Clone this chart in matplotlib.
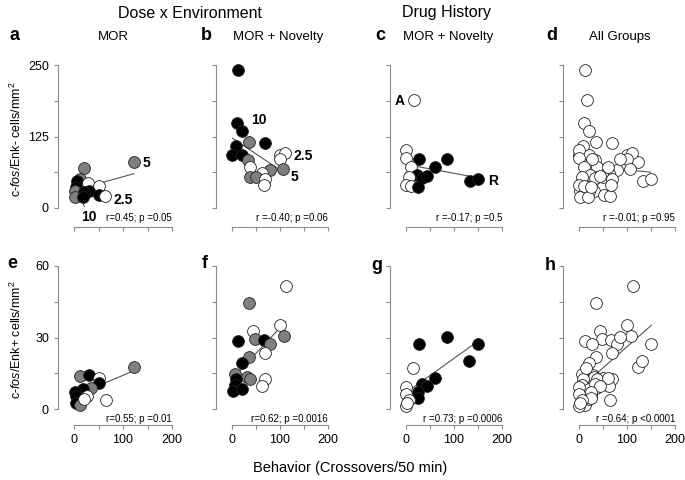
import numpy as np
import matplotlib

matplotlib.use("Agg")
import matplotlib.pyplot as plt

plt.rcParams["font.family"] = ["Liberation Sans", "DejaVu Sans"]
plt.rcParams["mathtext.fontset"] = "custom"
plt.rcParams["mathtext.rm"] = "Liberation Sans"
plt.rcParams["mathtext.it"] = "Liberation Sans:italic"

# --- data (x = crossovers / 50 min, y = cells / mm2) ---
# a: MOR, Enk- cells
a_x = [122, 20, 12, 7, 28, 50, 4, 31, 3, 20, 2, 18, 52, 64]
a_y = [80, 70, 50, 47, 43, 38, 36, 30, 29, 28, 20, 20, 23, 21]
a_grp = ["5", "5", "5", "10", "2.5", "2.5", "10", "10", "5", "10", "5", "10", "10", "2.5"]

# b: MOR + Novelty, Enk- cells
b_x = [13, 10, 20, 36, 69, 8, 1, 20, 34, 100, 110, 100, 79, 107, 38, 62, 38, 50, 69, 67]
b_y = [242, 148, 135, 116, 114, 108, 93, 93, 84, 93, 96, 85, 66, 68, 71, 61, 55, 55, 51, 40]
b_grp = ["10", "10", "10", "5", "10", "10", "10", "10", "5", "2.5",
         "2.5", "2.5", "5", "5", "2.5", "2.5", "5", "5", "2.5", "2.5"]

# c: drug history (A = acute, R = repeated), Enk- cells
c_x = [17, 0, 1, 28, 85, 10, 60, 22, 34, 44, 6, 1, 10, 24, 133, 149]
c_y = [188, 101, 88, 85, 85, 71, 71, 58, 52, 56, 54, 40, 38, 36, 48, 50]
c_grp = ["A", "A", "A", "R", "R", "A", "R", "R", "R", "R", "A", "A", "A", "R", "R", "R"]

# e: MOR, Enk+ cells
e_x = [122, 12, 30, 50, 52, 35, 18, 3, 26, 4, 65, 4, 12, 20]
e_y = [17.5, 13.7, 14.2, 12.8, 10.7, 9.0, 8.4, 7.0, 5.4, 5.5, 3.7, 2.6, 1.7, 4.0]
e_grp = ["5", "5", "10", "2.5", "10", "5", "10", "10", "2.5", "10", "2.5", "10", "5", "2.5"]

# f: MOR + Novelty, Enk+ cells
f_x = [112, 35, 43, 100, 108, 48, 13, 67, 80, 69, 36, 20, 6, 31, 38, 8, 69, 62, 6, 3, 20]
f_y = [51.5, 44.3, 32.7, 35.2, 30.6, 29.4, 28.5, 29.0, 27.1, 23.6, 21.7,
       19.2, 14.7, 13.6, 12.5, 12.5, 12.5, 9.7, 10.0, 7.5, 8.3]
f_grp = ["2.5", "5", "2.5", "2.5", "5", "5", "10", "10", "5", "2.5", "5",
         "10", "5", "5", "5", "10", "2.5", "2.5", "10", "10", "10"]

# g: drug history, Enk+ cells
g_x = [28, 85, 151, 131, 15, 60, 34, 44, 24, 24, 0, 0, 6, 0, 3]
g_y = [27.1, 30.4, 27.1, 20.3, 17.1, 12.9, 10.4, 9.7, 7.0, 4.5, 9.1, 6.5, 3.8, 1.4, 2.5]
g_grp = ["R", "R", "R", "R", "A", "R", "R", "R", "R", "R", "A", "A", "A", "A", "A"]

stats = {
    "a": "r=0.45; p =0.05",
    "b": "r =-0.40; p =0.06",
    "c": "r =-0.17; p =0.5",
    "d": "r =-0.01; p =0.95",
    "e": "r=0.55; p =0.01",
    "f": "r=0.62; p =0.0016",
    "g": "r =0.73; p =0.0006",
    "h": "r =0.64; p <0.0001",
}

FILL = {"2.5": "white", "5": "#7f7f7f", "10": "black", "A": "white", "R": "black", "all": "white"}
GREY = "#8c8c8c"

W, H = 685, 480
COLS = [(74, 172), (232, 328), (406, 502), (579, 675)]
ROWS = [(65, 208), (266, 409)]


def rect(col, row):
    l, r = COLS[col]
    t, b = ROWS[row]
    return [l / W, 1 - b / H, (r - l) / W, (b - t) / H]


def panel(fig, col, row, xs, ys, grps, key):
    ax = fig.add_axes(rect(col, row))
    top = row == 0
    ymax = 250 if top else 60
    ax.set_xlim(0, 200)
    ax.set_ylim(0, ymax)

    xs = np.asarray(xs, float)
    ys = np.asarray(ys, float)
    k, b0 = np.polyfit(xs, ys, 1)
    lx = np.array([xs.min(), xs.max()])
    ax.plot(lx, k * lx + b0, color="#555555", lw=0.8, zorder=1)

    for x, y, g in zip(xs, ys, grps):
        ax.scatter(x, y, s=72, facecolor=FILL[g], edgecolor="#222222",
                   linewidth=0.6, zorder=2, clip_on=False)

    for s in ["top", "right"]:
        ax.spines[s].set_visible(False)
    ax.spines["left"].set_position(("outward", 11.5))
    ax.spines["bottom"].set_position(("outward", 14 if top else 11.5))
    for s in ["left", "bottom"]:
        ax.spines[s].set_color(GREY)
        ax.spines[s].set_linewidth(0.8)
    ax.tick_params(colors=GREY, labelcolor="black", length=3, width=0.8, labelsize=9)

    ax.set_xticks([0, 50, 100, 150, 200])
    ax.set_xticklabels(["", "", "", "", ""] if top else ["0", "", "100", "", "200"])
    if top:
        ax.set_yticks([0, 62.5, 125, 187.5, 250])
        lab = ["0", "", "125", "", "250"]
    else:
        ax.set_yticks([0, 15, 30, 45, 60])
        lab = ["0", "", "30", "", "60"]
    ax.set_yticklabels(lab if col == 0 else [""] * 5)

    ax.text(200, -0.07 * ymax, stats[key], ha="right", va="center", fontsize=7)
    return ax


fig = plt.figure(figsize=(W / 100, H / 100), dpi=100)

ax_a = panel(fig, 0, 0, a_x, a_y, a_grp, "a")
ax_b = panel(fig, 1, 0, b_x, b_y, b_grp, "b")
ax_c = panel(fig, 2, 0, c_x, c_y, c_grp, "c")
ax_d = panel(fig, 3, 0, a_x + b_x + c_x, a_y + b_y + c_y,
             ["all"] * (len(a_x) + len(b_x) + len(c_x)), "d")
ax_e = panel(fig, 0, 1, e_x, e_y, e_grp, "e")
ax_f = panel(fig, 1, 1, f_x, f_y, f_grp, "f")
ax_g = panel(fig, 2, 1, g_x, g_y, g_grp, "g")
ax_h = panel(fig, 3, 1, e_x + f_x + g_x, e_y + f_y + g_y,
             ["all"] * (len(e_x) + len(f_x) + len(g_x)), "h")

# dose / history labels
bold = dict(fontsize=10, fontweight="bold", va="center", clip_on=False)
ax_a.text(140, 79, "5", ha="left", **bold)
ax_a.text(80, 14, "2.5", ha="left", **bold)
ax_a.annotate("10", xy=(17, 11), xytext=(30, -15), ha="center", va="center",
              fontsize=10, fontweight="bold", annotation_clip=False,
              arrowprops=dict(arrowstyle="-", color="#333333", lw=0.6, shrinkA=5, shrinkB=0))
ax_b.text(40, 153, "10", ha="left", **bold)
ax_b.text(129, 91, "2.5", ha="left", **bold)
ax_b.text(122, 55, "5", ha="left", **bold)
ax_c.text(-3, 187, "A", ha="right", **bold)
ax_c.text(171, 48, "R", ha="left", **bold)

# titles
fig.text(190 / W, 1 - 13 / H, "Dose x Environment", ha="center", va="center", fontsize=11.5)
fig.text(447 / W, 1 - 13 / H, "Drug History", ha="center", va="center", fontsize=11.5)
for x, t in [(113, "MOR"), (278, "MOR + Novelty"), (448, "MOR + Novelty"), (620, "All Groups")]:
    fig.text(x / W, 1 - 37 / H, t, ha="center", va="center", fontsize=9.5)

for x, y, t in [(15, 35, "a"), (206, 36, "b"), (380, 36, "c"), (552, 36, "d"),
                (12, 263, "e"), (205, 263, "f"), (377, 265, "g"), (550, 265, "h")]:
    fig.text(x / W, 1 - y / H, t, ha="center", va="center", fontsize=13, fontweight="bold")

fig.text(16 / W, 1 - 139 / H, r"c-$\mathit{fos}$/Enk- cells/mm$^2$",
         rotation=90, ha="center", va="center", fontsize=9)
fig.text(16 / W, 1 - 340 / H, r"c-$\mathit{fos}$/Enk+ cells/mm$^2$",
         rotation=90, ha="center", va="center", fontsize=9)
fig.text(350 / W, 1 - 468 / H, "Behavior (Crossovers/50 min)", ha="center", va="center",
         fontsize=10.5)

fig.savefig("out.png", dpi=100)
